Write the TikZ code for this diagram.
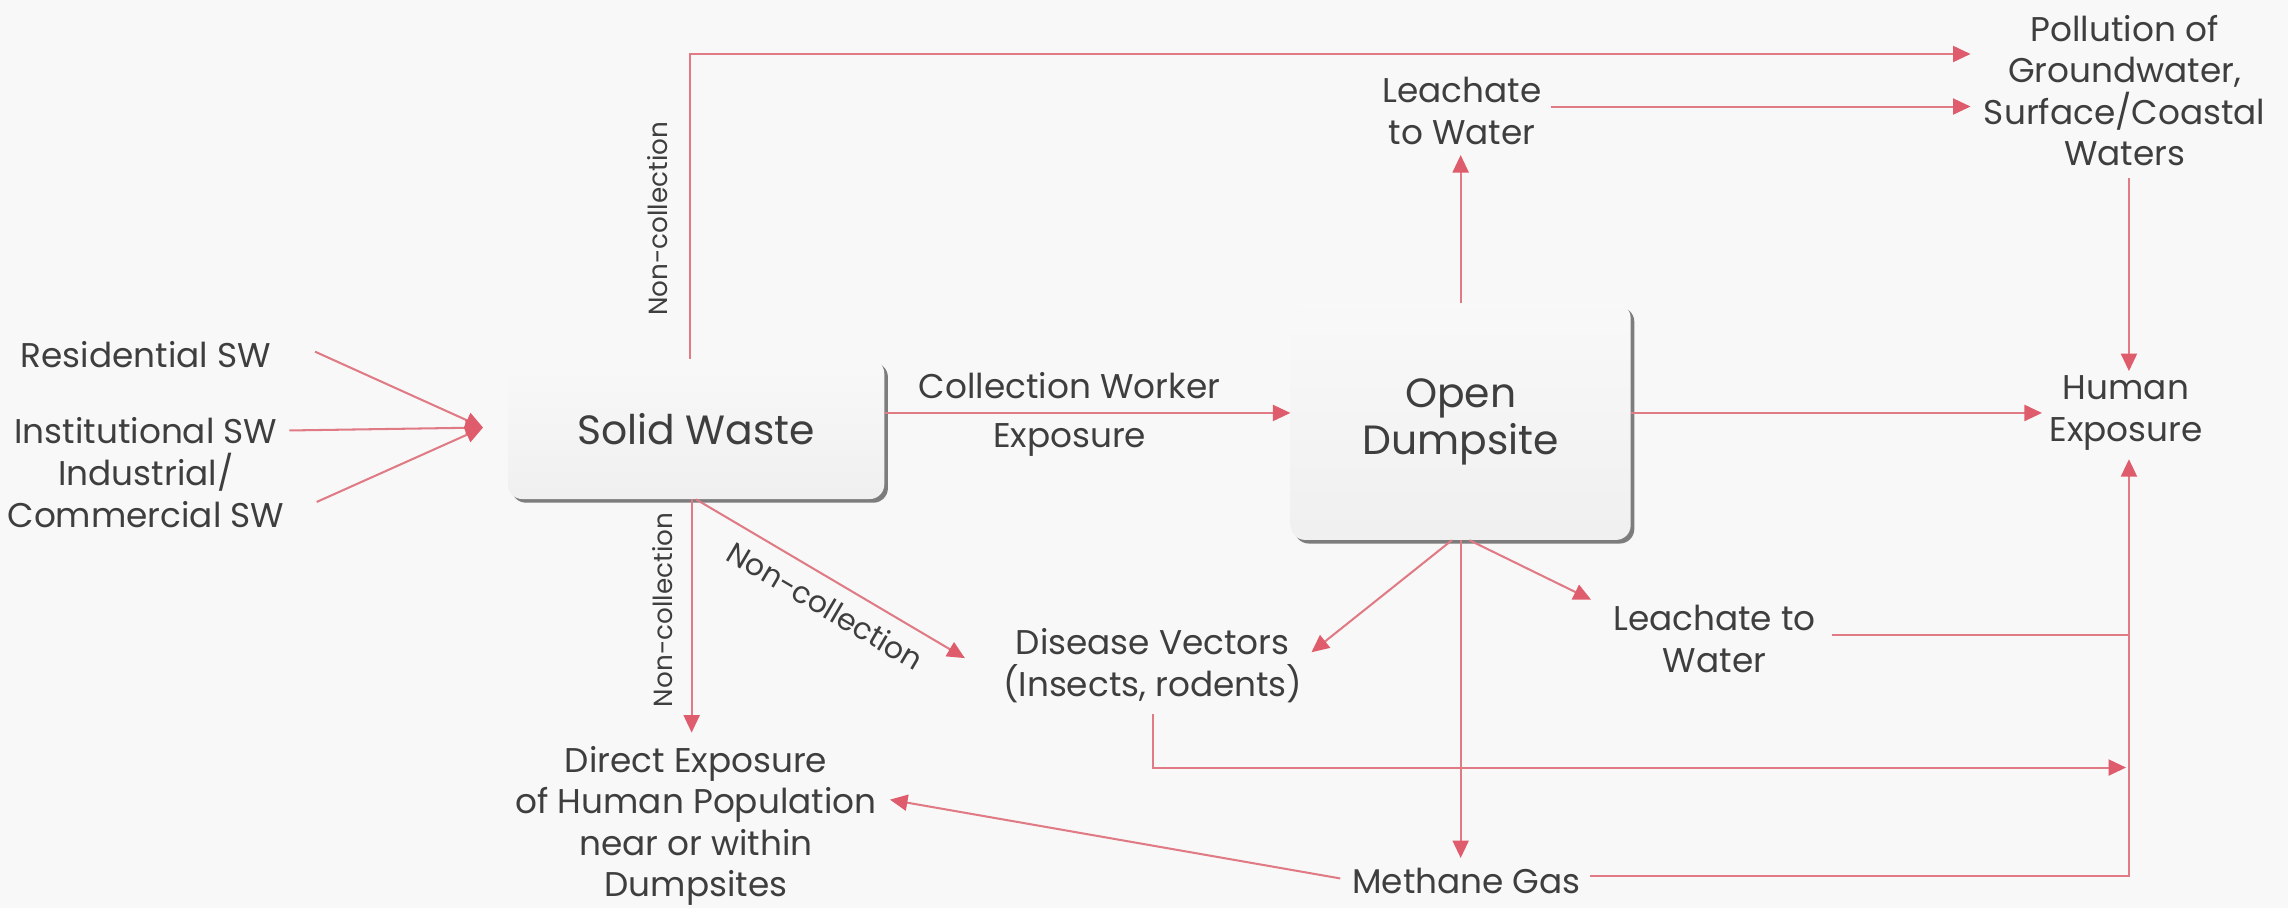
\documentclass[tikz,border=0pt]{standalone}
\usepackage{fontspec}
\setmainfont{Poppins}
\usetikzlibrary{arrows.meta,shadows}
\definecolor{ln}{RGB}{224,122,132}
\definecolor{tipc}{RGB}{222,92,108}
\definecolor{tx}{RGB}{62,62,62}
\definecolor{bg}{RGB}{248,248,248}
\definecolor{shad}{RGB}{125,125,125}
\begin{document}
\begin{tikzpicture}[x=1pt,y=-1pt,
  lbl/.style={text=tx, font=\fontsize{23.5}{28.5}\selectfont, align=center, inner sep=0pt},
  small/.style={text=tx, font=\fontsize{18}{22}\selectfont, inner sep=0pt},
  big/.style={text=tx, font=\fontsize{28}{32}\selectfont, align=center, rounded corners=10pt,
    top color=gray!5, bottom color=gray!12, inner sep=0pt,
    general shadow={fill=shad, shadow xshift=2.5pt, shadow yshift=-2.5pt}},
  conn/.style={draw=ln, line width=1.4pt},
  arr/.style={conn, -{Triangle[length=12pt,width=11pt,color=tipc]}},
]
\fill[bg] (0,0) rectangle (1568,622);
\useasboundingbox (0,0) rectangle (1568,622);

% nodes
\node[lbl] (res) at (100,243) {Residential SW};
\node[lbl] (inst) at (100,295) {Institutional SW};
\node[lbl] (ind) at (100,336) {Industrial/\\Commercial SW};
\coordinate (conv) at (331,293);
\node[big, minimum width=258pt, minimum height=96pt] (sw) at (477,294) {Solid Waste};
\node[big, minimum width=233pt, minimum height=162pt] (od) at (1001,289) {Open\\Dumpsite};
\node[lbl] (lwt) at (1002,76) {Leachate\\to Water};
\node[lbl] (poll) at (1456,62) {Pollution of\\Groundwater,\\Surface/Coastal\\Waters};
\node[lbl] (hum) at (1457,283) {Human\\Exposure};
\node[lbl] (dv) at (790,456) {Disease Vectors\\(Insects, rodents)};
\node[lbl] (lwb) at (1175,438) {Leachate to\\Water};
\node[lbl] (meth) at (1005,604) {Methane Gas};
\node[lbl] (dex) at (477,566) {Direct Exposure\\of Human Population\\near or within\\Dumpsites};
\node[lbl, font=\fontsize{23.5}{34}\selectfont] (cwe) at (733,284) {Collection Worker\\Exposure};
\node[small, rotate=90] (nc1) at (451,150) {Non-collection};
\node[small, rotate=90] (nc2) at (454,418) {Non-collection};
\coordinate (vl) at (1459,283);
\coordinate (dvj) at (1457,526);

% inputs
\draw[arr] ([xshift=30pt,yshift=2pt]res.east) -- (conv);
\draw[arr] ([xshift=8pt]inst.east) -- (conv);
\draw[arr] ([xshift=22pt,yshift=-8pt]ind.east) -- (conv);

% top
\draw[arr] ([xshift=-4pt]sw.north) |- ([yshift=25pt,xshift=-9pt]poll.west);
\draw[arr, shorten >=7pt] (od.north) -- (od.north |- lwt.south);
\draw[arr] ([xshift=6pt,yshift=3pt]lwt.east) -- ([yshift=3pt,xshift=-9pt]lwt.east -| poll.west);
\draw[arr, shorten <=8pt, shorten >=3pt] (vl |- poll.south) -- (vl |- hum.north);

% middle
\draw[arr] (sw.east |- hum.west) -- (od.west |- hum.west);
\draw[arr, shorten >=5pt] (od.east |- hum.west) -- (hum.west);

% below solid waste
\draw[arr, shorten >=9pt] ([xshift=-3pt]sw.south) -- ([xshift=-3pt]sw.south |- dex.north);
\draw[arr] (sw.south) -- ([xshift=-26pt,yshift=5pt]dv.west)
  node[pos=0.53, sloped, below=9pt, small, font=\fontsize{20.5}{24}\selectfont] (nc3) {Non-collection};

% below dumpsite
\draw[arr] ([xshift=-6pt]od.south) -- ([xshift=6pt,yshift=9pt]dv.east);
\draw[arr] ([xshift=6pt]od.south) -- ([xshift=-15pt,yshift=27pt]lwb.west);
\draw[arr, shorten >=7pt] (od.south) -- (od.south |- meth.north);
\draw[arr] ([xshift=-8pt,yshift=2pt]meth.west) -- ([xshift=9pt,yshift=18pt]dex.east);

% right collector
\draw[arr, shorten >=6pt] ([xshift=6pt,yshift=4pt]meth.east) -| (vl |- hum.south);
\draw[conn] ([xshift=11pt,yshift=3pt]lwb.east) -- ([yshift=3pt]lwb.east -| vl);
\draw[arr] ([yshift=-8pt]dv.south) |- (dvj);
\end{tikzpicture}
\end{document}
